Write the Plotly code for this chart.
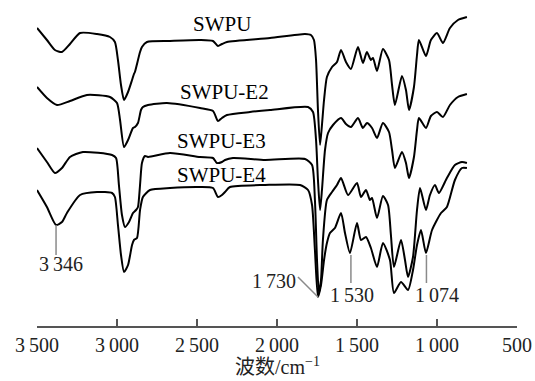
import plotly.graph_objects as go

# wavenumbers (cm^-1) and relative transmittance (offset, arbitrary units)
swpu_wn = [3500, 3438, 3388, 3344, 3294, 3231, 3125, 3044, 3013, 2994, 2975, 2956, 2931, 2906, 2894, 2888,
           2856, 2844, 2813, 2669, 2481, 2400, 2369, 2344, 2313, 2044, 1825, 1788, 1769, 1756, 1744, 1731,
           1719, 1706, 1688, 1656, 1625, 1600, 1569, 1538, 1494, 1463, 1438, 1413, 1400, 1375, 1338, 1300,
           1281, 1263, 1219, 1194, 1175, 1144, 1125, 1113, 1069, 1038, 1000, 963, 919, 869, 813]
swpu_t = [298, 286, 276, 274, 282, 293, 292, 289, 284, 266, 241, 226, 234, 246, 252, 254,
          274, 279, 284, 285, 286, 285, 280, 282, 284, 288, 292, 291, 286, 266, 216, 181,
          201, 226, 249, 259, 264, 276, 264, 257, 279, 263, 274, 266, 268, 255, 277, 266,
          241, 221, 250, 236, 216, 239, 271, 286, 270, 286, 293, 283, 298, 306, 309]

e2_wn = [3500, 3438, 3375, 3294, 3188, 3044, 3000, 2981, 2956, 2931, 2900, 2888, 2869, 2850, 2838, 2806,
         2688, 2481, 2400, 2369, 2344, 2313, 2169, 2044, 1806, 1775, 1756, 1744, 1731, 1719, 1700, 1681,
         1650, 1600, 1569, 1538, 1494, 1463, 1438, 1406, 1375, 1338, 1300, 1281, 1263, 1219, 1194, 1175,
         1144, 1125, 1113, 1069, 1038, 1000, 963, 919, 869, 813]
e2_t = [239, 228, 221, 225, 231, 229, 223, 206, 179, 186, 198, 199, 203, 216, 219, 221,
        223, 218, 215, 205, 208, 211, 214, 216, 219, 214, 186, 146, 116, 136, 176, 193,
        201, 208, 202, 199, 208, 198, 203, 198, 188, 203, 194, 176, 158, 174, 163, 148,
        169, 196, 208, 198, 210, 214, 209, 221, 229, 232]

e3_wn = [3500, 3438, 3388, 3344, 3294, 3213, 3031, 3006, 2988, 2969, 2950, 2925, 2900, 2881, 2869, 2856,
         2844, 2825, 2806, 2669, 2481, 2400, 2375, 2344, 2325, 2275, 2075, 1825, 1781, 1763, 1750, 1738,
         1725, 1713, 1688, 1656, 1625, 1600, 1556, 1500, 1475, 1444, 1419, 1406, 1375, 1338, 1306, 1288,
         1269, 1225, 1200, 1181, 1150, 1125, 1106, 1069, 1044, 1013, 988, 938, 888, 844, 813]
e3_t = [178, 164, 153, 158, 169, 174, 171, 168, 141, 111, 99, 104, 113, 116, 119, 141,
        163, 170, 169, 173, 169, 168, 163, 164, 166, 168, 166, 167, 161, 126, 66, 33,
        46, 86, 126, 134, 141, 148, 131, 143, 129, 136, 126, 128, 108, 130, 121, 91,
        59, 86, 66, 49, 69, 116, 138, 116, 131, 141, 133, 148, 161, 164, 163]

e4_wn = [3500, 3438, 3381, 3344, 3313, 3231, 3125, 3031, 3013, 2994, 2975, 2956, 2931, 2906, 2894, 2875,
         2856, 2838, 2794, 2669, 2481, 2400, 2369, 2344, 2325, 2294, 2075, 1856, 1806, 1781, 1763, 1744,
         1725, 1706, 1688, 1669, 1638, 1600, 1575, 1544, 1500, 1475, 1444, 1413, 1375, 1338, 1294, 1269,
         1225, 1181, 1150, 1125, 1100, 1069, 1031, 975, 938, 888, 844, 813]
e4_t = [136, 119, 101, 104, 113, 131, 134, 133, 129, 101, 71, 54, 61, 81, 86, 88,
        116, 129, 136, 138, 139, 138, 129, 131, 134, 139, 141, 141, 136, 121, 76, 29,
        41, 66, 83, 93, 98, 113, 93, 73, 103, 86, 89, 78, 59, 83, 66, 33,
        44, 36, 56, 81, 96, 73, 96, 113, 119, 146, 158, 158]

series_names = ["SWPU", "SWPU-E2", "SWPU-E3", "SWPU-E4"]
tick_vals = [3500, 3000, 2500, 2000, 1500, 1000, 500]
tick_text = ["3\u2009500", "3\u2009000", "2\u2009500", "2\u2009000", "1\u2009500", "1\u2009000", "500"]
peak_labels = ["3\u2009346", "1\u2009730", "1\u2009530", "1\u2009074"]

SERIF = "Liberation Serif, Times New Roman, Noto Sans CJK SC, serif"

fig = go.Figure()
for wn, t, name in [(swpu_wn, swpu_t, series_names[0]), (e2_wn, e2_t, series_names[1]),
                    (e3_wn, e3_t, series_names[2]), (e4_wn, e4_t, series_names[3])]:
    fig.add_trace(go.Scatter(x=wn, y=t, mode="lines", name=name,
                             line=dict(color="black", width=2, shape="spline", smoothing=0.6),
                             showlegend=False, hoverinfo="skip"))

# series labels
for name, x, y in [(series_names[0], 2344, 302), (series_names[1], 2331, 234),
                   (series_names[2], 2344, 185), (series_names[3], 2344, 151)]:
    fig.add_annotation(x=x, y=y, text=name, showarrow=False, xanchor="center", yanchor="middle",
                       font=dict(family=SERIF, size=21, color="black"))

# peak leader lines
lead = dict(color="#8a8a8a", width=1.5)
fig.add_shape(type="line", x0=3381, x1=3381, y0=101, y1=71, line=lead)
fig.add_shape(type="line", x0=1869, x1=1744, y0=49, y1=29, line=lead)
fig.add_shape(type="line", x0=1538, x1=1538, y0=71, y1=43, line=lead)
fig.add_shape(type="line", x0=1066, x1=1066, y0=71, y1=43, line=lead)

for txt, x, y, xa in [(peak_labels[0], 3350, 62, "center"), (peak_labels[1], 1869, 45, "right"),
                      (peak_labels[2], 1534, 31, "center"), (peak_labels[3], 1003, 31, "center")]:
    fig.add_annotation(x=x, y=y, text=txt, showarrow=False, xanchor=xa, yanchor="middle",
                       font=dict(family=SERIF, size=20, color="#222"))

fig.add_annotation(xref="paper", yref="paper", x=0.5, y=-0.1227, text="波数/cm<sup>−1</sup>",
                   showarrow=False, xanchor="center", yanchor="middle",
                   font=dict(family=SERIF, size=20, color="#222"))

fig.update_layout(
    width=535, height=381, margin=dict(l=37, r=18, t=0, b=55),
    paper_bgcolor="white", plot_bgcolor="white",
    xaxis=dict(range=[3500, 500], tickvals=tick_vals, ticktext=tick_text, ticks="inside",
               ticklen=7, tickwidth=1.5, tickcolor="#555", showline=True, linecolor="#555",
               linewidth=1.5, showgrid=False, zeroline=False,
               tickfont=dict(family=SERIF, size=20, color="#222")),
    yaxis=dict(range=[0, 326], visible=False, showgrid=False, zeroline=False),
)

fig.write_html("out.html")
